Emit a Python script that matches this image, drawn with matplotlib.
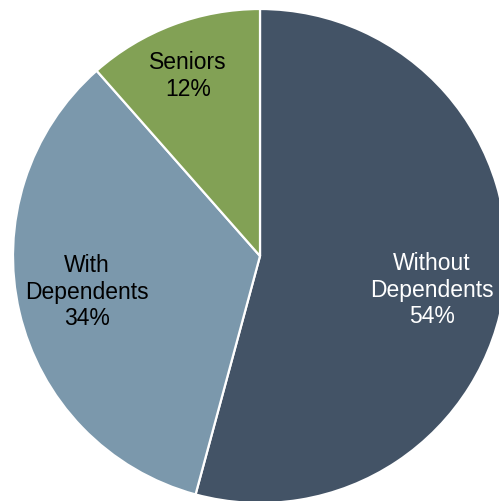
import matplotlib
matplotlib.use("Agg")
import matplotlib.pyplot as plt

categories = ["Without\nDependents", "With\nDependents", "Seniors"]
values = [54.2, 34.3, 11.5]
colors = ["#435366", "#7b98ac", "#82a155"]
text_colors = ["white", "black", "black"]

W, H = 499, 502
fig = plt.figure(figsize=(W / 100, H / 100), dpi=100)
ax = fig.add_axes([0, 0, 1, 1])

cx, cy, r = 260, H - 257, 247
wedges, _ = ax.pie(values, colors=colors, startangle=90, counterclock=False,
                   center=(cx, cy), radius=r, frame=True,
                   wedgeprops=dict(edgecolor="white", linewidth=1.6))
ax.set_xlim(0, W)
ax.set_ylim(0, H)
ax.set_aspect("equal")
ax.axis("off")

label_pos = [(432, H - 290), (87, H - 292), (188, H - 76)]
for lab, v, (x, y), tc in zip(categories, values, label_pos, text_colors):
    ax.text(x, y, f"{lab}\n{round(v)}%", ha="center", va="center", color=tc,
            fontsize=16.5, family="Liberation Sans", linespacing=1.2)

fig.savefig("out.png", dpi=100)
